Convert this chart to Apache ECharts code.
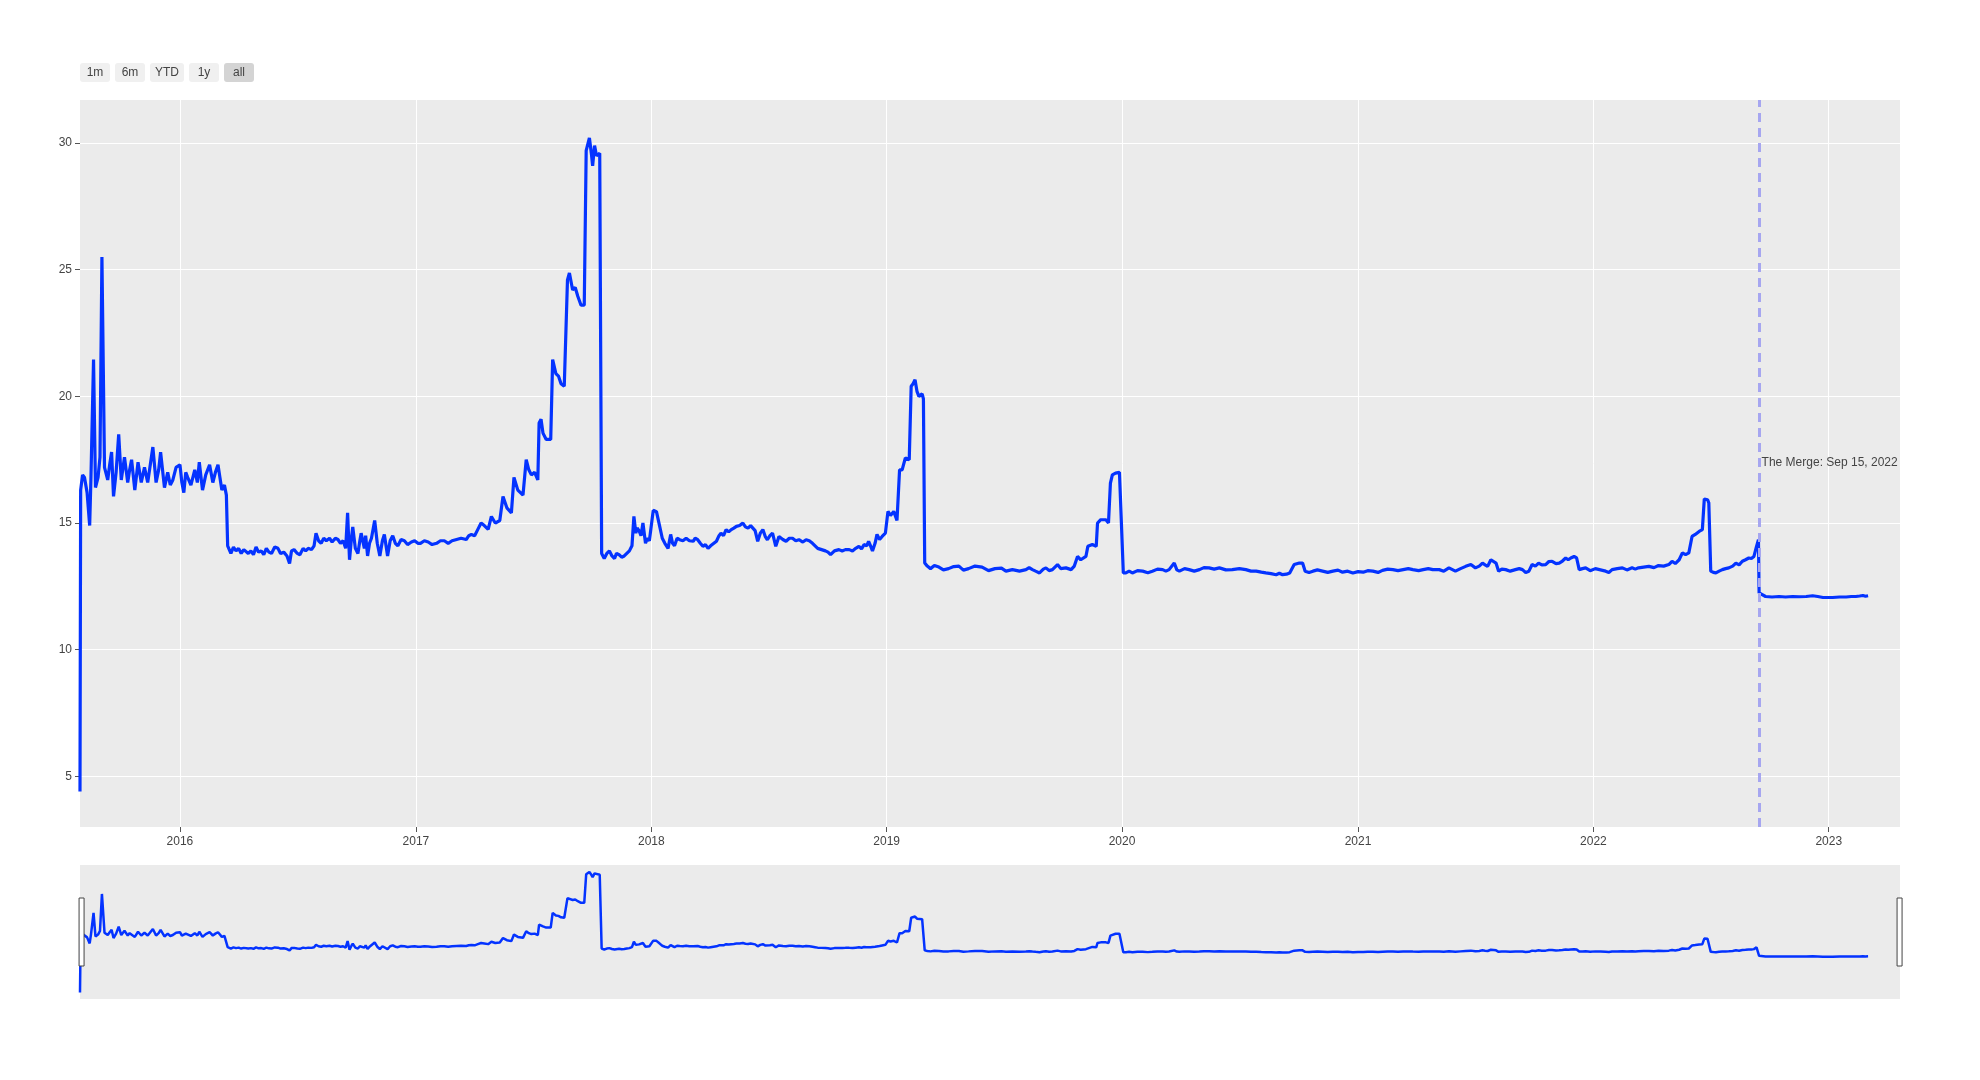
<!DOCTYPE html>
<html>
<head>
<meta charset="utf-8">
<script src="https://cdn.jsdelivr.net/npm/echarts@6/dist/echarts.min.js"></script>
<style>
  html, body { margin: 0; padding: 0; background: #fff; }
  #main { width: 1980px; height: 1080px; }
</style>
</head>
<body>
<div id="main"></div>
<script>
// average block time (seconds), one pair of arrays per year
const days2015 = [
  '07-30','07-31','08-03','08-06','08-10','08-14','08-16','08-20','08-23','08-27',
  '08-30','09-02','09-06','09-11','09-14','09-17','09-20','09-24','09-28','10-02',
  '10-07','10-12','10-15','10-18','10-23','10-28','11-02','11-07','11-12','11-16',
  '11-20','11-25','11-29','12-02','12-08','12-13','12-17','12-21','12-26'];
const vals2015 = [
  4.4, 16.3, 16.9, 16.8, 16.2, 14.9, 16.8, 21.45, 16.4, 16.8,
  17.6, 25.5, 17.2, 16.7, 17.3, 17.8, 16.05, 17.0, 18.5, 16.7,
  17.6, 16.6, 17.1, 17.5, 16.3, 17.4, 16.6, 17.2, 16.6, 17.3,
  18.0, 16.6, 17.1, 17.8, 16.4, 17.0, 16.5, 16.7, 17.2];

const days2016 = [
  '01-01','01-04','01-07','01-10','01-13','01-18','01-24','01-28','01-31','02-05',
  '02-10','02-16','02-21','02-25','02-29','03-03','03-06','03-10','03-13','03-15',
  '03-20','03-24','03-28','04-01','04-05','04-09','04-12','04-16','04-20','04-24',
  '04-28','05-02','05-06','05-10','05-14','05-18','05-22','05-27','06-01','06-05',
  '06-10','06-15','06-19','06-22','06-26','07-01','07-05','07-10','07-14','07-18',
  '07-23','07-27','07-30','08-03','08-07','08-11','08-15','08-20','08-24','08-29',
  '09-02','09-06','09-10','09-14','09-17','09-20','09-23','09-25','09-29','10-03',
  '10-06','10-08','10-13','10-15','10-18','10-21','10-24','10-29','11-02','11-06',
  '11-10','11-13','11-18','11-22','11-26','11-30','12-04','12-09','12-14','12-19',
  '12-25','12-30'];
const vals2016 = [
  17.3, 16.6, 16.2, 17.0, 16.8, 16.5, 17.1, 16.6, 17.4, 16.3,
  16.9, 17.3, 16.6, 17.0, 17.3, 16.8, 16.3, 16.5, 16.1, 14.1,
  13.8, 14.05, 13.9, 14.0, 13.8, 13.95, 14.0, 13.8, 13.9, 13.75,
  14.05, 13.85, 13.9, 13.75, 14.0, 13.85, 13.8, 14.05, 14.0, 13.8,
  13.85, 13.7, 13.4, 13.9, 13.95, 13.8, 13.75, 14.0, 13.9, 14.0,
  13.95, 14.1, 14.6, 14.3, 14.2, 14.4, 14.3, 14.4, 14.25, 14.4,
  14.35, 14.2, 14.3, 14.0, 15.4, 13.55, 14.4, 14.85, 14.0, 13.8,
  14.3, 14.6, 14.0, 14.5, 13.7, 14.2, 14.4, 15.1, 14.2, 13.7,
  14.3, 14.55, 13.7, 14.3, 14.5, 14.2, 14.1, 14.35, 14.3, 14.15,
  14.25, 14.3];

const days2017 = [
  '01-04','01-08','01-14','01-20','01-26','02-02','02-08','02-14','02-20','02-26',
  '03-05','03-12','03-20','03-24','03-28','04-02','04-07','04-12','04-17','04-23',
  '04-28','05-04','05-11','05-16','05-22','05-29','06-02','06-08','06-16','06-21',
  '06-25','06-29','07-04','07-09','07-11','07-14','07-17','07-22','07-29','08-01',
  '08-06','08-10','08-14','08-19','08-24','08-27','09-01','09-05','09-09','09-14',
  '09-19','09-22','09-27','09-30','10-02','10-05','10-08','10-13','10-16','10-20',
  '10-24','10-28','11-01','11-05','11-08','11-12','11-16','11-20','11-24','11-28',
  '12-02','12-05','12-08','12-10','12-13','12-16','12-19','12-23','12-26','12-29'];
const vals2017 = [
  14.2, 14.2, 14.3, 14.25, 14.15, 14.2, 14.3, 14.3, 14.2, 14.3,
  14.35, 14.4, 14.35, 14.5, 14.55, 14.5, 14.75, 15.0, 14.9, 14.75,
  15.26, 15.0, 15.1, 16.05, 15.6, 15.4, 16.8, 16.3, 16.1, 17.5,
  17.1, 16.9, 17.0, 16.7, 18.95, 19.1, 18.55, 18.3, 18.3, 21.45,
  20.9, 20.8, 20.5, 20.4, 24.6, 24.87, 24.2, 24.3, 23.95, 23.6,
  23.6, 29.7, 30.2, 29.6, 29.1, 29.9, 29.5, 29.6, 13.8, 13.6,
  13.8, 13.9, 13.7, 13.6, 13.8, 13.75, 13.65, 13.7, 13.8, 13.9,
  14.1, 15.26, 14.6, 14.8, 14.7, 14.5, 15.0, 14.2, 14.4, 14.3];

const days2018 = [
  '01-04','01-09','01-14','01-18','01-22','01-27','01-31','02-03','02-06','02-10',
  '02-14','02-19','02-24','03-01','03-07','03-10','03-14','03-18','03-22','03-26',
  '03-30','04-03','04-06','04-12','04-16','04-19','04-23','04-27','05-01','05-05',
  '05-09','05-13','05-18','05-23','05-27','05-31','06-04','06-07','06-11','06-15',
  '06-19','06-23','06-27','06-30','07-04','07-08','07-13','07-18','07-24','07-29',
  '08-03','08-08','08-13','08-18','08-24','08-29','09-03','09-08','09-12','09-16',
  '09-22','09-28','10-02','10-06','10-12','10-19','10-24','10-29','11-04','11-09',
  '11-14','11-19','11-23','11-27','12-01','12-04','12-07','12-10','12-14','12-17',
  '12-21','12-25','12-30'];
const vals2018 = [
  15.5, 15.45, 14.87, 14.4, 14.2, 14.0, 14.55, 14.2, 14.1, 14.4,
  14.34, 14.3, 14.4, 14.3, 14.28, 14.4, 14.34, 14.2, 14.08, 14.15,
  14.0, 14.1, 14.08, 14.28, 14.5, 14.6, 14.5, 14.74, 14.65, 14.74,
  14.8, 14.87, 14.9, 15.0, 14.85, 14.8, 14.9, 14.87, 14.7, 14.28,
  14.6, 14.74, 14.45, 14.34, 14.5, 14.6, 14.08, 14.47, 14.35, 14.28,
  14.4, 14.4, 14.3, 14.34, 14.25, 14.34, 14.3, 14.2, 14.1, 14.0,
  13.95, 13.9, 13.85, 13.75, 13.9, 13.95, 13.9, 13.95, 13.95, 13.9,
  14.0, 14.08, 13.98, 14.15, 14.1, 14.28, 14.1, 13.9, 14.2, 14.55,
  14.35, 14.47, 14.6];

const days2019 = [
  '01-03','01-07','01-12','01-17','01-21','01-25','01-30','02-05','02-08','02-11',
  '02-14','02-17','02-20','02-25','02-27','03-01','03-05','03-10','03-16','03-23',
  '03-30','04-07','04-15','04-23','04-30','05-08','05-18','05-29','06-08','06-18',
  '06-28','07-05','07-15','07-26','08-05','08-10','08-15','08-20','08-26','09-01',
  '09-05','09-10','09-15','09-23','09-28','10-06','10-14','10-19','10-24','10-29',
  '11-06','11-09','11-16','11-22','11-24','11-29','12-07','12-11','12-14','12-17',
  '12-22','12-28','12-31'];
const vals2019 = [
  15.46, 15.3, 15.46, 15.1, 17.1, 17.1, 17.57, 17.5, 20.4, 20.5,
  20.66, 20.2, 20.0, 20.1, 19.9, 13.42, 13.3, 13.2, 13.32, 13.26,
  13.15, 13.2, 13.28, 13.3, 13.14, 13.2, 13.3, 13.26, 13.12, 13.2,
  13.22, 13.1, 13.16, 13.1, 13.16, 13.24, 13.16, 13.1, 13.03, 13.18,
  13.23, 13.12, 13.16, 13.36, 13.2, 13.23, 13.16, 13.3, 13.68, 13.55,
  13.68, 14.08, 14.15, 14.08, 15.0, 15.13, 15.13, 15.0, 16.58, 16.9,
  16.97, 17.0, 17.0];

const days2020 = [
  '01-03','01-07','01-12','01-17','01-25','02-02','02-10','02-17','02-25','03-04',
  '03-09','03-14','03-22','03-26','03-30','04-07','04-14','04-22','04-30','05-07',
  '05-15','05-23','05-31','06-10','06-20','07-01','07-11','07-19','07-27','08-04',
  '08-11','08-19','08-27','09-01','09-06','09-12','09-17','09-24','10-02','10-07',
  '10-11','10-17','10-23','10-30','11-07','11-15','11-23','12-01','12-08','12-16',
  '12-24'];
const vals2020 = [
  13.03, 13.03, 13.1, 13.03, 13.12, 13.1, 13.04, 13.1, 13.18, 13.16,
  13.1, 13.16, 13.42, 13.15, 13.1, 13.2, 13.16, 13.1, 13.16, 13.24,
  13.23, 13.18, 13.23, 13.15, 13.16, 13.2, 13.16, 13.1, 13.1, 13.06,
  13.03, 13.0, 12.96, 13.02, 12.96, 12.98, 13.03, 13.36, 13.42, 13.42,
  13.1, 13.05, 13.1, 13.15, 13.1, 13.05, 13.1, 13.14, 13.06, 13.1,
  13.03];

const days2021 = [
  '01-01','01-09','01-16','01-24','02-01','02-08','02-16','02-24','03-04','03-12',
  '03-20','03-27','04-05','04-12','04-20','04-27','05-07','05-14','05-22','06-01',
  '06-09','06-17','06-25','07-02','07-08','07-13','07-17','07-21','07-26','08-03',
  '08-07','08-12','08-18','08-25','09-02','09-08','09-13','09-18','09-23','09-28',
  '10-03','10-08','10-13','10-19','10-24','10-29','11-04','11-09','11-14','11-19',
  '11-23','11-27','12-02','12-06','12-10','12-15','12-20','12-27'];
const vals2021 = [
  13.08, 13.06, 13.12, 13.1, 13.05, 13.13, 13.18, 13.16, 13.12, 13.16,
  13.2, 13.16, 13.12, 13.16, 13.2, 13.16, 13.16, 13.1, 13.23, 13.1,
  13.2, 13.29, 13.36, 13.23, 13.3, 13.42, 13.35, 13.29, 13.55, 13.42,
  13.1, 13.18, 13.16, 13.1, 13.16, 13.2, 13.16, 13.05, 13.1, 13.36,
  13.3, 13.42, 13.35, 13.36, 13.48, 13.49, 13.4, 13.42, 13.5, 13.62,
  13.55, 13.62, 13.68, 13.62, 13.16, 13.2, 13.23, 13.12];

const days2022 = [
  '01-04','01-12','01-20','01-25','01-30','02-07','02-15','02-22','03-02','03-07',
  '03-12','03-20','03-28','04-05','04-12','04-20','04-28','05-03','05-08','05-14',
  '05-19','05-24','05-29','06-03','06-08','06-14','06-19','06-22','06-27','06-29',
  '07-02','07-06','07-10','07-15','07-20','07-25','07-30','08-05','08-10','08-15',
  '08-20','08-25','08-30','09-03','09-07','09-11','09-14','09-15','09-18','09-25',
  '10-05','10-16','10-26','11-06','11-16','11-27','12-07','12-15','12-23'];
const vals2022 = [
  13.2, 13.15, 13.1, 13.05, 13.16, 13.2, 13.23, 13.15, 13.23, 13.18,
  13.23, 13.26, 13.29, 13.24, 13.32, 13.3, 13.36, 13.49, 13.4, 13.55,
  13.82, 13.75, 13.82, 14.47, 14.55, 14.67, 14.74, 15.95, 15.92, 15.8,
  13.1, 13.05, 13.03, 13.1, 13.16, 13.2, 13.23, 13.3, 13.42, 13.35,
  13.49, 13.55, 13.62, 13.6, 13.68, 14.08, 14.34, 12.24, 12.17, 12.1,
  12.08, 12.1, 12.08, 12.1, 12.09, 12.1, 12.13, 12.1, 12.06];

const days2023 = ['01-07','01-18','01-28','02-05','02-12','02-18','02-23','02-27','03-03'];
const vals2023 = [12.06, 12.08, 12.08, 12.1, 12.1, 12.12, 12.14, 12.11, 12.13];

const yearTicks = ['2016-01-01','2017-01-01','2018-01-01','2019-01-01','2020-01-01','2021-01-01','2022-01-01','2023-01-01'];
const yTicks = [5, 10, 15, 20, 25, 30];
const mergeDate = '2022-09-15';
const mergeLabel = 'The Merge: Sep 15, 2022';
const mergeLabelY = 17.4;
const rangeButtons = ['1m', '6m', 'YTD', '1y', 'all'];

const toTs = d => +echarts.time.parse(d);
const X_MIN = toTs('2015-07-30');
const X_MAX = toTs('2023-04-21 12:00');
const Y_MIN = 3.0, Y_MAX = 31.7;
const LINE = '#0433ff';
const FONT = 'Arial, "Liberation Sans", sans-serif';

const years = [
  [2015, days2015, vals2015], [2016, days2016, vals2016], [2017, days2017, vals2017],
  [2018, days2018, vals2018], [2019, days2019, vals2019], [2020, days2020, vals2020],
  [2021, days2021, vals2021], [2022, days2022, vals2022], [2023, days2023, vals2023]
];
const seriesData = [];
years.forEach(([y, days, vals]) => {
  days.forEach((md, i) => seriesData.push([toTs(y + '-' + md), vals[i]]));
});

const chart = echarts.init(document.getElementById('main'));
const yearTs = yearTicks.map(toTs);

// range selector buttons, drawn as graphic groups
const btnWidths = [30, 30, 34, 30, 30];
let bx = 80;
const buttonEls = rangeButtons.map((label, i) => {
  const w = btnWidths[i];
  const el = {
    type: 'group',
    x: bx, y: 63,
    children: [
      { type: 'rect', shape: { x: 0, y: 0, width: w, height: 19, r: 3 },
        style: { fill: label === 'all' ? '#d4d4d4' : '#f0f0f0' } },
      { type: 'text', style: { text: label, x: w / 2, y: 10, align: 'center', verticalAlign: 'middle',
        fill: '#444', font: '12px ' + FONT } }
    ],
    onclick: () => zoomTo(label)
  };
  bx += w + 5;
  return el;
});

function zoomTo(label) {
  const last = seriesData[seriesData.length - 1][0];
  const d = new Date(last);
  let start;
  if (label === '1m') start = new Date(d.getFullYear(), d.getMonth() - 1, d.getDate());
  else if (label === '6m') start = new Date(d.getFullYear(), d.getMonth() - 6, d.getDate());
  else if (label === 'YTD') start = new Date(d.getFullYear(), 0, 1);
  else if (label === '1y') start = new Date(d.getFullYear() - 1, d.getMonth(), d.getDate());
  if (label === 'all') chart.dispatchAction({ type: 'dataZoom', start: 0, end: 100 });
  else chart.dispatchAction({ type: 'dataZoom', startValue: +start, endValue: last });
}

const option = {
  animation: false,
  textStyle: { fontFamily: FONT },
  graphic: buttonEls,
  grid: [
    { left: 80, right: 80, top: 100, height: 727, show: true, backgroundColor: '#ebebeb', borderWidth: 0 },
    { left: 80, right: 80, top: 865, height: 134, show: true, backgroundColor: '#ebebeb', borderWidth: 0 }
  ],
  xAxis: [
    {
      type: 'value', gridIndex: 0, min: X_MIN, max: X_MAX,
      axisLine: { show: false },
      axisTick: { show: true, length: 5, lineStyle: { color: '#555' }, customValues: yearTs },
      axisLabel: { customValues: yearTs, margin: 9, color: '#444', fontSize: 12,
        formatter: v => String(new Date(v).getFullYear()) },
      splitLine: { show: true, lineStyle: { color: '#fff', width: 1 } }
    },
    {
      type: 'value', gridIndex: 1, min: X_MIN, max: X_MAX,
      axisLine: { show: false }, axisTick: { show: false }, axisLabel: { show: false },
      splitLine: { show: false }
    }
  ],
  yAxis: [
    {
      type: 'value', gridIndex: 0, min: Y_MIN, max: Y_MAX,
      axisLine: { show: false },
      axisTick: { show: true, length: 5, lineStyle: { color: '#555' }, customValues: yTicks },
      axisLabel: { customValues: yTicks, margin: 8, color: '#444', fontSize: 12 },
      splitLine: { show: true, lineStyle: { color: '#fff', width: 1 } }
    },
    {
      type: 'value', gridIndex: 1, min: Y_MIN, max: Y_MAX,
      axisLine: { show: false }, axisTick: { show: false }, axisLabel: { show: false },
      splitLine: { show: false }
    }
  ],
  dataZoom: [{
    type: 'slider', xAxisIndex: 0, filterMode: 'none',
    left: 80, right: 80, top: 865, height: 134,
    showDataShadow: false, showDetail: false, brushSelect: false,
    backgroundColor: 'transparent', borderColor: 'transparent', fillerColor: 'rgba(0,0,0,0)',
    handleIcon: 'path://M0,0 h5 v68 h-5 Z', handleSize: 68,
    handleStyle: { color: '#fff', borderColor: '#444', borderWidth: 1 },
    moveHandleSize: 0,
    emphasis: { handleStyle: { color: '#fff', borderColor: '#444' } }
  }],
  series: [
    {
      type: 'line', xAxisIndex: 0, yAxisIndex: 0, data: seriesData,
      showSymbol: false, lineStyle: { color: LINE, width: 3.2 }, itemStyle: { color: LINE },
      z: 3,
      markLine: {
        silent: true, symbol: 'none',
        lineStyle: { color: '#a6a6f0', width: 3, type: [9, 6] },
        label: { show: false },
        data: [{ xAxis: toTs(mergeDate) }]
      },
      markPoint: {
        silent: true, symbol: 'rect', symbolSize: 1, itemStyle: { color: 'rgba(0,0,0,0)' },
        label: { show: true, position: 'right', distance: 2, color: '#444', fontSize: 12,
          formatter: mergeLabel },
        data: [{ coord: [toTs(mergeDate), mergeLabelY] }]
      }
    },
    {
      type: 'line', xAxisIndex: 1, yAxisIndex: 1, data: seriesData,
      showSymbol: false, lineStyle: { color: LINE, width: 2.5 }, itemStyle: { color: LINE }, z: 1
    }
  ]
};
chart.setOption(option);
</script>
</body>
</html>
